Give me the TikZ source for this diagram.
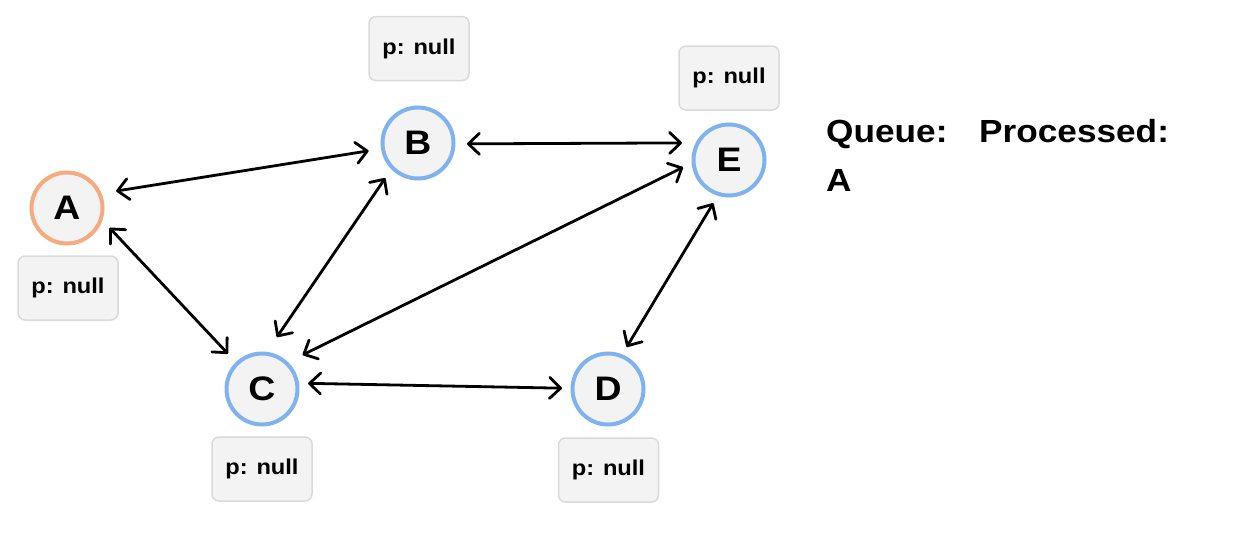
\documentclass[tikz,border=0pt]{standalone}
\usepackage{fontspec}
\setmainfont{Liberation Sans}[FakeStretch=1.1]
\usetikzlibrary{arrows.meta,calc}
\definecolor{nodefill}{HTML}{F3F3F3}
\definecolor{visitblue}{HTML}{7EB3F0}
\definecolor{startorange}{HTML}{F5AA80}
\definecolor{tagline}{HTML}{DADADA}
\tikzset{
  vertex/.style={circle, minimum size=71pt, inner sep=0pt, line width=4pt,
    fill=nodefill, draw=visitblue, font=\fontsize{34}{34}\selectfont\bfseries},
  startvertex/.style={vertex, draw=startorange},
  ptag/.style={rectangle, rounded corners=7pt, minimum width=100pt, minimum height=64pt,
    fill=nodefill, draw=tagline, line width=1.5pt,
    font=\fontsize{21.5}{21.5}\selectfont\bfseries},
  edge/.style={line width=2.8pt, black,
    {Straight Barb[length=11pt,width=21pt,round]}-{Straight Barb[length=11pt,width=21pt,round]}},
  heading/.style={anchor=base west, inner sep=0pt, font=\fontsize{32}{32}\selectfont\bfseries}
}
\begin{document}
\begin{tikzpicture}[x=1pt,y=1pt]
  \fill[white] (0,0) rectangle (1245,-554);
  \useasboundingbox (0,0) rectangle (1245,-554);

  % graph vertices
  \node[startvertex] (A) at (67,-208) {A};
  \node[vertex] (B) at (418,-143) {B};
  \node[vertex] (E) at (729,-160) {E};
  \node[vertex] (C) at (262,-389) {C};
  \node[vertex] (D) at (608,-389) {D};

  % predecessor tags
  \node[ptag] (pA) at (68,-288) {p: null};
  \node[ptag] (pB) at (419,-48.5) {p: null};
  \node[ptag] (pE) at (729,-78) {p: null};
  \node[ptag] (pC) at (262,-469) {p: null};
  \node[ptag] (pD) at (608.5,-470) {p: null};

  % undirected edges, drawn with heads at both ends
  \draw[edge] ($(A)+(19:52)$) -- ($(B)+(189:50)$);
  \draw[edge] ($(A)+(-25:47)$) -- ($(C)+(134:49)$);
  \draw[edge] ($(B)+(227:48)$) -- ($(C)+(74:54)$);
  \draw[edge] ($(B)+(-1:49)$) -- ($(E)+(160:50)$);
  \draw[edge] ($(C)+(40:53)$) -- ($(E)+(189:46.5)$);
  \draw[edge] ($(C)+(7:46.5)$) -- ($(D)+(179:46)$);
  \draw[edge] ($(D)+(66:46)$) -- ($(E)+(250:46)$);

  % queue and processed lists
  \node[heading] (queue) at (826,-142) {Queue:};
  \node[heading] (processed) at (979,-142) {Processed:};
  \node[heading] (q1) at (826,-191) {A};
\end{tikzpicture}
\end{document}
